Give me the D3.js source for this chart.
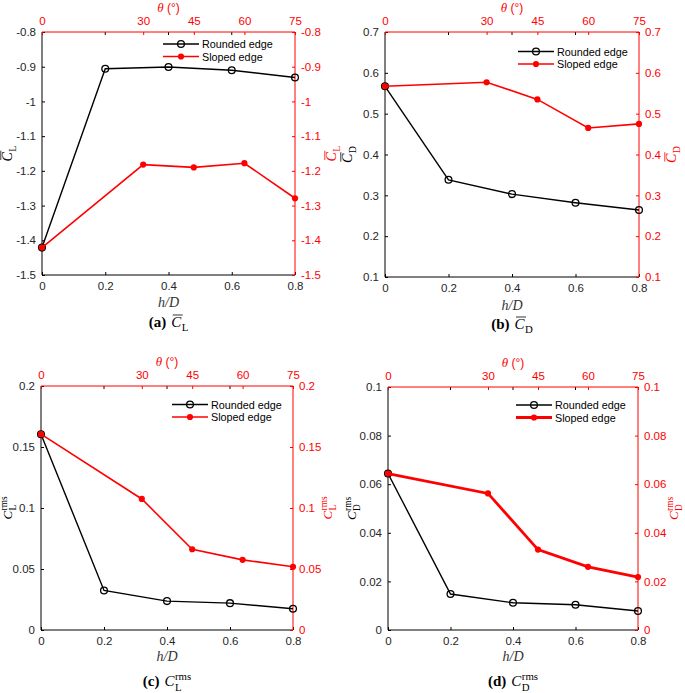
<!DOCTYPE html>
<html>
<head>
<meta charset="utf-8">
<script src="https://cdn.jsdelivr.net/npm/d3@7"></script>
<style>
  html, body { margin: 0; padding: 0; background: #fff; }
  svg { display: block; }
</style>
</head>
<body>
<svg id="chart" width="685" height="693"></svg>
<script>
// ---------------- DATA ----------------
const hD = [0, 0.2, 0.4, 0.6, 0.8];
const theta = [0, 30, 45, 60, 75];
const hDTicks = [0, 0.2, 0.4, 0.6, 0.8];
const thetaTicks = [0, 30, 45, 60, 75];
const seriesNames = ["Rounded edge", "Sloped edge"];

const clRounded = [-1.421, -0.906, -0.901, -0.910, -0.931];
const clSloped  = [-1.421, -1.182, -1.190, -1.178, -1.279];
const clTicks   = [-1.5, -1.4, -1.3, -1.2, -1.1, -1.0, -0.9, -0.8];

const cdRounded = [0.567, 0.338, 0.303, 0.282, 0.264];
const cdSloped  = [0.567, 0.577, 0.535, 0.465, 0.475];
const cdTicks   = [0.1, 0.2, 0.3, 0.4, 0.5, 0.6, 0.7];

const clRmsRounded = [0.1605, 0.0324, 0.0237, 0.0220, 0.0174];
const clRmsSloped  = [0.1605, 0.1074, 0.0662, 0.0575, 0.0518];
const clRmsTicks   = [0, 0.05, 0.1, 0.15, 0.2];

const cdRmsRounded = [0.0644, 0.0148, 0.0112, 0.0104, 0.0078];
const cdRmsSloped  = [0.0644, 0.0562, 0.0331, 0.0260, 0.0218];
const cdRmsTicks   = [0, 0.02, 0.04, 0.06, 0.08, 0.1];

const panelLetters = ["(a)", "(b)", "(c)", "(d)"];

// ---------------- LAYOUT ----------------
const RED = "#ff0000";
const BLACK = "#000000";
const TICKCOL = "#262626";
const SANS = "'Liberation Sans', Arial, Helvetica, sans-serif";
const SERIF = "'Liberation Serif', 'Times New Roman', Times, serif";

const panels = [
  { letter: panelLetters[0], rounded: clRounded, sloped: clSloped, ticks: clTicks, dom: [-1.5, -0.8],
    sub: "L", bar: true, rms: false,
    box: { x0: 42, x1: 295, y0: 32, y1: 275 }, leg: { x: 163, y: 44 }, xlabY: 307, capY: 327, redW: 1.6,
    yl: -34, yr: 37, ys: 14 },
  { letter: panelLetters[1], rounded: cdRounded, sloped: cdSloped, ticks: cdTicks, dom: [0.1, 0.7],
    sub: "D", bar: true, rms: false,
    box: { x0: 385, x1: 639, y0: 32, y1: 277 }, leg: { x: 518, y: 51.5 }, xlabY: 310, capY: 329, redW: 1.6,
    yl: -37, yr: 33, ys: 14 },
  { letter: panelLetters[2], rounded: clRmsRounded, sloped: clRmsSloped, ticks: clRmsTicks, dom: [0, 0.2],
    sub: "L", bar: false, rms: true,
    box: { x0: 41, x1: 293, y0: 386, y1: 630 }, leg: { x: 172, y: 404.5 }, xlabY: 661, capY: 686, redW: 1.6,
    yl: -33, yr: 35, ys: 13 },
  { letter: panelLetters[3], rounded: cdRmsRounded, sloped: cdRmsSloped, ticks: cdRmsTicks, dom: [0, 0.1],
    sub: "D", bar: false, rms: true,
    box: { x0: 388, x1: 638, y0: 387, y1: 630 }, leg: { x: 516, y: 405 }, xlabY: 661, capY: 686, redW: 2.8,
    yl: -36, yr: 36, ys: 13 }
];

const svg = d3.select("#chart");
const fmt = v => String(+v.toFixed(4));

// math symbol: C (italic) with optional overline, optional "rms" superscript, subscript
function symbol(parent, opts) {
  const fs = opts.size, col = opts.color;
  const g = parent.append("g");
  const C = g.append("text").attr("x", 0).attr("y", 0)
    .attr("font-family", SERIF).attr("font-style", "italic").attr("font-size", fs)
    .attr("fill", col).text("C");
  const wC = C.node().getComputedTextLength();
  const sx = wC + 0.5;
  const sub = g.append("text").attr("x", sx).attr("y", opts.rms ? fs * 0.32 : fs * 0.25)
    .attr("font-family", SERIF).attr("font-size", fs * 0.72).attr("fill", col).text(opts.sub);
  let w = sx + sub.node().getComputedTextLength();
  if (opts.rms) {
    const sup = g.append("text").attr("x", sx).attr("y", -fs * 0.38)
      .attr("font-family", SERIF).attr("font-size", fs * 0.72).attr("fill", col).text("rms");
    w = Math.max(w, sx + sup.node().getComputedTextLength());
  }
  if (opts.bar) {
    g.append("line").attr("x1", 1.5).attr("x2", wC + 1.5)
      .attr("y1", -fs * 0.8).attr("y2", -fs * 0.8)
      .attr("stroke", col).attr("stroke-width", 0.8);
  }
  return { g, w };
}

panels.forEach(p => {
  const b = p.box;
  const g = svg.append("g");
  const x = d3.scaleLinear().domain([0, 0.8]).range([b.x0, b.x1]);
  const xt = d3.scaleLinear().domain([0, 75]).range([b.x0, b.x1]);
  const y = d3.scaleLinear().domain(p.dom).range([b.y1, b.y0]);

  // bottom axis (black), ticks inward
  const bottom = d3.axisBottom(x).tickValues(hDTicks).tickSize(-3).tickPadding(7).tickFormat(fmt);
  const gb = g.append("g").attr("transform", `translate(0,${b.y1})`).call(bottom);
  gb.select(".domain").attr("stroke", BLACK).attr("d", `M${b.x0},0H${b.x1}`);
  gb.selectAll(".tick line").attr("stroke", BLACK);
  gb.selectAll(".tick text").attr("fill", TICKCOL).attr("font-family", SANS).attr("font-size", 11.5);

  // mirrored black ticks on top
  g.append("g").selectAll("line").data(hDTicks.slice(1, -1)).join("line")
    .attr("x1", d => x(d)).attr("x2", d => x(d)).attr("y1", b.y0).attr("y2", b.y0 + 3)
    .attr("stroke", BLACK);

  // left axis (black)
  const left = d3.axisLeft(y).tickValues(p.ticks).tickSize(-3).tickPadding(6).tickFormat(fmt);
  const gl = g.append("g").attr("transform", `translate(${b.x0},0)`).call(left);
  gl.select(".domain").attr("stroke", BLACK).attr("d", `M0,${b.y1}V${b.y0}`);
  gl.selectAll(".tick line").attr("stroke", BLACK);
  gl.selectAll(".tick text").attr("fill", TICKCOL).attr("font-family", SANS).attr("font-size", 11.5);

  // top axis (red, theta)
  const top = d3.axisTop(xt).tickValues(thetaTicks).tickSize(-3).tickPadding(7).tickFormat(d3.format("d"));
  const gt = g.append("g").attr("transform", `translate(0,${b.y0})`).call(top);
  gt.select(".domain").attr("stroke", RED).attr("d", `M${b.x0},0H${b.x1}`);
  gt.selectAll(".tick line").attr("stroke", RED);
  gt.selectAll(".tick text").attr("fill", RED).attr("font-family", SANS).attr("font-size", 11.5);

  // right axis (red)
  const right = d3.axisRight(y).tickValues(p.ticks).tickSize(-3).tickPadding(6).tickFormat(fmt);
  const gr = g.append("g").attr("transform", `translate(${b.x1},0)`).call(right);
  gr.select(".domain").attr("stroke", RED).attr("d", `M0,${b.y1}V${b.y0}`);
  gr.selectAll(".tick line").attr("stroke", RED);
  gr.selectAll(".tick text").attr("fill", RED).attr("font-family", SANS).attr("font-size", 11.5);

  // theta label
  const cx = (b.x0 + b.x1) / 2;
  const th = g.append("text").attr("x", cx).attr("y", b.y0 - 20).attr("text-anchor", "middle")
    .attr("fill", RED).attr("font-size", 12);
  th.append("tspan").attr("font-family", SERIF).attr("font-style", "italic").attr("font-size", 13).text("θ");
  th.append("tspan").attr("font-family", SANS).text(" (°)");

  // h/D label
  g.append("text").attr("x", cx).attr("y", p.xlabY).attr("text-anchor", "middle")
    .attr("font-family", SERIF).attr("font-style", "italic").attr("font-size", 14)
    .attr("fill", "#333").text("h/D");

  // y labels (rotated)
  const cy = (b.y0 + b.y1) / 2;
  [[b.x0 + p.yl, BLACK], [b.x1 + p.yr, RED]].forEach(([lx, col]) => {
    const rg = g.append("g").attr("transform", `translate(${lx},${cy}) rotate(-90)`);
    const s = symbol(rg, { size: p.ys, color: col, sub: p.sub, bar: p.bar, rms: p.rms });
    s.g.attr("transform", `translate(${-s.w / 2},4)`);
  });

  // caption
  const cap = g.append("g");
  const lt = cap.append("text").attr("x", 0).attr("y", 0).attr("font-family", SERIF)
    .attr("font-weight", "bold").attr("font-size", 15).attr("fill", BLACK).text(p.letter);
  const lw = lt.node().getComputedTextLength() + 5;
  const cs = symbol(cap, { size: 15, color: BLACK, sub: p.sub, bar: p.bar, rms: p.rms });
  cs.g.attr("transform", `translate(${lw},0)`);
  cap.attr("transform", `translate(${cx - (lw + cs.w) / 2},${p.capY})`);

  // series
  const line = d3.line();
  const rPts = hD.map((h, i) => [x(h), y(p.rounded[i])]);
  const sPts = theta.map((t, i) => [xt(t), y(p.sloped[i])]);
  g.append("path").attr("d", line(rPts)).attr("fill", "none").attr("stroke", BLACK).attr("stroke-width", 1.4);
  g.append("g").selectAll("circle").data(rPts).join("circle")
    .attr("cx", d => d[0]).attr("cy", d => d[1]).attr("r", 3.4)
    .attr("fill", "none").attr("stroke", BLACK).attr("stroke-width", 1.3);
  g.append("path").attr("d", line(sPts)).attr("fill", "none").attr("stroke", RED).attr("stroke-width", p.redW);
  g.append("g").selectAll("circle").data(sPts).join("circle")
    .attr("cx", d => d[0]).attr("cy", d => d[1]).attr("r", 3.1).attr("fill", RED);

  // legend
  const L = p.leg;
  const lg = g.append("g");
  [[BLACK, false, 1.4], [RED, true, p.redW]].forEach(([col, filled, sw], i) => {
    const yy = L.y + i * 12.5;
    lg.append("line").attr("x1", L.x).attr("x2", L.x + 36).attr("y1", yy).attr("y2", yy)
      .attr("stroke", col).attr("stroke-width", sw);
    lg.append("circle").attr("cx", L.x + 18).attr("cy", yy).attr("r", filled ? 3.1 : 3.4)
      .attr("fill", filled ? col : "none").attr("stroke", filled ? "none" : col).attr("stroke-width", 1.3);
    lg.append("text").attr("x", L.x + 39).attr("y", yy + 4).attr("font-family", SANS)
      .attr("font-size", 10.8).attr("fill", BLACK).text(seriesNames[i]);
  });
});
</script>
</body>
</html>
